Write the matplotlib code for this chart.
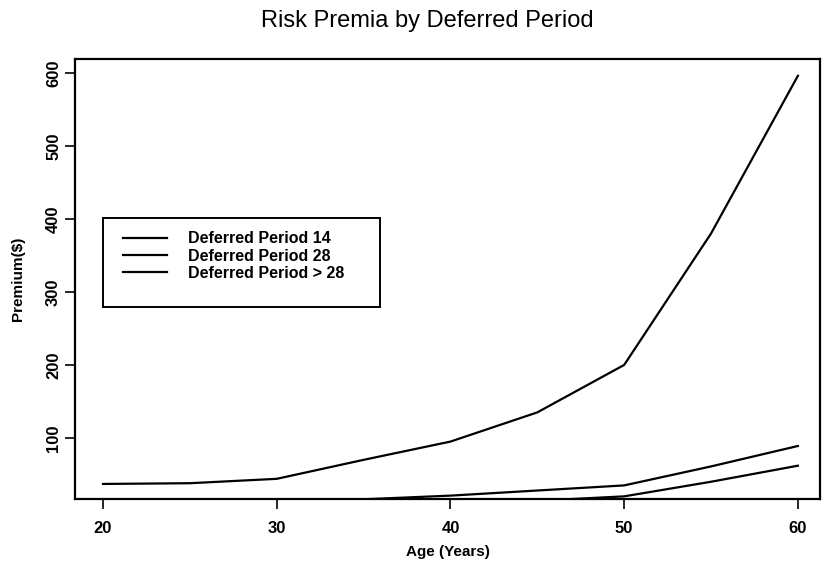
import matplotlib
matplotlib.use('Agg')
import matplotlib.pyplot as plt
from matplotlib.patches import Rectangle

plt.rcParams['font.family'] = ['Liberation Sans', 'DejaVu Sans']

# Premium by age for each deferred period
ages = [20, 25, 30, 35, 40, 45, 50, 55, 60]
dp14 = [37, 38, 44, 70, 95, 135, 200, 380, 596]
dp28 = [6, 8, 12, 16, 21, 28, 35, 61, 89]
dp_gt28 = [3, 4, 5, 7, 9, 14, 20, 40, 62]
labels = ['Deferred Period 14', 'Deferred Period 28', 'Deferred Period > 28']

fig = plt.figure(figsize=(8.26, 5.75), dpi=100)
ax = fig.add_axes([0.0908, 0.1322, 0.9019, 0.7652])

h1, = ax.plot(ages, dp14, color='black', lw=1.6)
h2, = ax.plot(ages, dp28, color='black', lw=1.6)
h3, = ax.plot(ages, dp_gt28, color='black', lw=1.6)

ax.set_xlim(18.39, 61.27)
ax.set_ylim(16.4, 619)
ax.set_xticks([20, 30, 40, 50, 60])
ax.set_yticks([100, 200, 300, 400, 500, 600])
for s in ax.spines.values():
    s.set_linewidth(1.6)
ax.tick_params(direction='out', length=7, width=1.2, labelsize=12)
ax.tick_params(axis='x', pad=9)
ax.tick_params(axis='y', pad=3)
for t in ax.get_xticklabels():
    t.set_fontweight('bold')
for t in ax.get_yticklabels():
    t.set_fontweight('bold')
    t.set_rotation(90)
    t.set_va('center')

ax.set_xlabel('Age (Years)', fontsize=11, fontweight='bold', labelpad=6)
ax.set_ylabel('Premium($)', fontsize=11, fontweight='bold', labelpad=15)
fig.text(0.517, 0.963, 'Risk Premia by Deferred Period', ha='center',
         va='center', fontsize=17)

# boxed legend, text sits in the upper part of the frame
box = Rectangle((0.0376, 0.436), 0.3718, 0.2026, transform=ax.transAxes,
                fill=False, edgecolor='black', lw=1.4)
ax.add_patch(box)
ax.legend([h1, h2, h3], labels, loc='upper left',
          bbox_to_anchor=(0.049, 0.634), frameon=False,
          prop={'size': 11.5, 'weight': 'bold'}, handlelength=2.8,
          handletextpad=1.3, labelspacing=0.15, borderpad=0.2)

fig.savefig('out.png', dpi=100)
